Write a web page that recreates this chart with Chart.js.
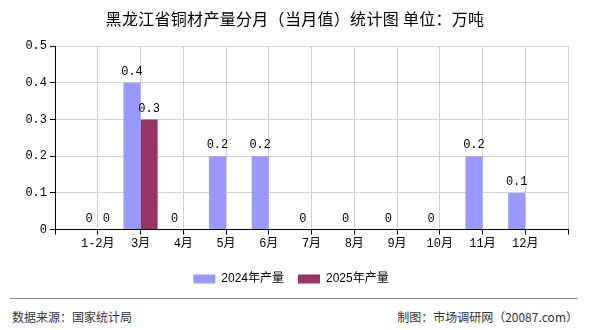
<!DOCTYPE html>
<html>
<head>
<meta charset="utf-8">
<script src="https://cdn.jsdelivr.net/npm/chart.js@4/dist/chart.umd.min.js"></script>
<style>
  body { margin: 0; background: #fff; }
  #wrap { position: relative; width: 590px; height: 330px; }
  #title { position: absolute; left: 0; top: 8px; width: 590px; text-align: center; font: 16px/20px "Noto Sans CJK SC", sans-serif; letter-spacing: 0.3px; color: #000; }
  #box { position: absolute; left: 0; top: 0; width: 590px; height: 295px; }
  #rule { position: absolute; left: 10px; top: 298px; width: 568px; height: 1px; background: #888; }
  .foot { position: absolute; top: 308px; font: 12px "Noto Sans CJK SC", sans-serif; color: #333; }
</style>
</head>
<body>
<div id="wrap">
  <div id="box"><canvas id="chart"></canvas></div>
  <div id="title">黑龙江省铜材产量分月（当月值）统计图 单位：万吨</div>
  <div id="rule"></div>
  <div class="foot" style="left:12px">数据来源：国家统计局</div>
  <div class="foot" style="right:12px">制图：市场调研网（20087.com）</div>
</div>
<script>
"use strict";
const months = ['1-2月', '3月', '4月', '5月', '6月', '7月', '8月', '9月', '10月', '11月', '12月'];
const output2024 = [0, 0.4, 0, 0.2, 0.2, 0, 0, 0, 0, 0.2, 0.1];
const output2025 = [0, 0.3, null, null, null, null, null, null, null, null, null];
const yTicks = [0, 0.1, 0.2, 0.3, 0.4, 0.5];

// empty slots at both ends so the axis runs one step past the first and last month
const labels = [''].concat(months, ['']);
function pad(arr) {
    return [null].concat(arr, [null]);
}

const monoFont = '"Liberation Mono", "Noto Sans CJK SC", monospace';

const valueLabels = {
    id: 'valueLabels',
    afterDatasetsDraw(chart) {
        const ctx = chart.ctx;
        ctx.save();
        ctx.font = '12px ' + monoFont;
        ctx.fillStyle = '#000';
        ctx.textAlign = 'center';
        ctx.textBaseline = 'bottom';
        chart.data.datasets.forEach((ds, i) => {
            const meta = chart.getDatasetMeta(i);
            meta.data.forEach((bar, j) => {
                const v = ds.data[j];
                if (v === null || v === undefined) return;
                ctx.fillText(String(v), bar.x, bar.y - 5);
            });
        });
        ctx.restore();
    }
};

new Chart(document.getElementById('chart'), {
    type: 'bar',
    data: {
        labels: labels,
        datasets: [{
            label: '2024年产量',
            data: pad(output2024),
            backgroundColor: '#9999ff',
            barPercentage: 1,
            categoryPercentage: 0.8
        }, {
            label: '2025年产量',
            data: pad(output2025),
            backgroundColor: '#993366',
            barPercentage: 1,
            categoryPercentage: 0.8
        }]
    },
    options: {
        responsive: true,
        maintainAspectRatio: false,
        animation: false,
        layout: { padding: { left: 14, right: 22, top: 46, bottom: 0 } },
        plugins: {
            title: { display: false },
            legend: {
                position: 'bottom',
                labels: {
                    boxWidth: 22,
                    boxHeight: 9,
                    color: '#000',
                    padding: 14,
                    font: { family: '"Liberation Sans", "Noto Sans CJK SC"', size: 12 }
                }
            },
            tooltip: { enabled: false }
        },
        scales: {
            x: {
                offset: false,
                afterFit(scale) { scale.height += 6; },
                grid: { offset: false, color: '#d0d0d0', tickColor: '#000', tickLength: 5 },
                border: { color: '#000' },
                ticks: {
                    color: '#000',
                    autoSkip: false,
                    maxRotation: 0,
                    padding: 2,
                    font: { family: monoFont, size: 12 }
                }
            },
            y: {
                min: 0,
                max: 0.5,
                afterFit(scale) { scale.width = 41; },
                afterBuildTicks(scale) { scale.ticks = yTicks.map(v => ({ value: v })); },
                grid: { color: '#d0d0d0', tickColor: '#000', tickLength: 5 },
                border: { color: '#000' },
                ticks: {
                    color: '#000',
                    padding: 3,
                    font: { family: monoFont, size: 12 },
                    callback: v => String(v)
                }
            }
        }
    },
    plugins: [valueLabels]
});
</script>
</body>
</html>
